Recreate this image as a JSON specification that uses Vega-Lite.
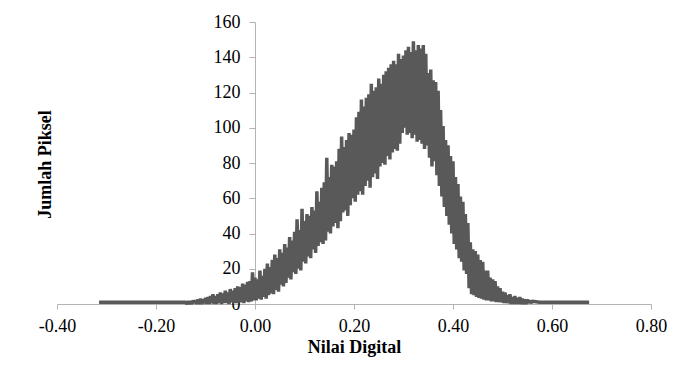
{
  "$schema": "https://vega.github.io/schema/vega-lite/v6.json",
  "width": 594,
  "height": 282,
  "autosize": "none",
  "padding": {"left": 57, "top": 22, "right": 26, "bottom": 72},
  "background": "white",
  "config": {
    "view": {"stroke": null},
    "font": "Liberation Serif"
  },
  "data": {
    "values": [
      {"x":-0.315,"y":1},{"x":-0.3,"y":1},{"x":-0.275,"y":1},{"x":-0.25,"y":1},{"x":-0.225,"y":1},{"x":-0.2,"y":1},{"x":-0.175,"y":1},{"x":-0.15,"y":1},
      {"x":-0.14,"y":1},{"x":-0.1375,"y":0},{"x":-0.135,"y":1.5},{"x":-0.1325,"y":0},
      {"x":-0.13,"y":1.5},{"x":-0.1275,"y":0},{"x":-0.125,"y":2},{"x":-0.1225,"y":0.5},
      {"x":-0.12,"y":2},{"x":-0.1175,"y":0},{"x":-0.115,"y":2.5},{"x":-0.1125,"y":0},
      {"x":-0.11,"y":3},{"x":-0.1075,"y":0},{"x":-0.105,"y":2.5},{"x":-0.1025,"y":0.5},
      {"x":-0.1,"y":3.5},{"x":-0.0975,"y":0},{"x":-0.095,"y":4},{"x":-0.0925,"y":0},
      {"x":-0.09,"y":4.5},{"x":-0.0875,"y":0.5},{"x":-0.085,"y":5.5},{"x":-0.0825,"y":0},
      {"x":-0.08,"y":4.5},{"x":-0.0775,"y":0},{"x":-0.075,"y":5.5},{"x":-0.0725,"y":0.5},
      {"x":-0.07,"y":6.5},{"x":-0.0675,"y":0},{"x":-0.065,"y":6},{"x":-0.0625,"y":0.5},
      {"x":-0.06,"y":7.5},{"x":-0.0575,"y":0.5},{"x":-0.055,"y":6.5},{"x":-0.0525,"y":0},
      {"x":-0.05,"y":8.5},{"x":-0.0475,"y":1},{"x":-0.045,"y":7.5},{"x":-0.0425,"y":0.5},
      {"x":-0.04,"y":9},{"x":-0.0375,"y":0.5},{"x":-0.035,"y":10},{"x":-0.0325,"y":1},
      {"x":-0.03,"y":9.5},{"x":-0.0275,"y":1},{"x":-0.025,"y":11.5},{"x":-0.0225,"y":0.5},
      {"x":-0.02,"y":11},{"x":-0.0175,"y":1.5},{"x":-0.015,"y":12.5},{"x":-0.0125,"y":1},
      {"x":-0.01,"y":13},{"x":-0.0075,"y":1.5},{"x":-0.005,"y":18},{"x":-0.0025,"y":2},
      {"x":0,"y":15},{"x":0.0025,"y":2},{"x":0.005,"y":14},{"x":0.0075,"y":3},
      {"x":0.01,"y":19},{"x":0.0125,"y":2.5},{"x":0.015,"y":16},{"x":0.0175,"y":4},
      {"x":0.02,"y":20},{"x":0.0225,"y":3},{"x":0.025,"y":23},{"x":0.0275,"y":5},
      {"x":0.03,"y":21},{"x":0.0325,"y":6},{"x":0.035,"y":25},{"x":0.0375,"y":5.5},
      {"x":0.04,"y":28},{"x":0.0425,"y":8},{"x":0.045,"y":26},{"x":0.0475,"y":7},
      {"x":0.05,"y":31},{"x":0.0525,"y":11},{"x":0.055,"y":29},{"x":0.0575,"y":10},
      {"x":0.06,"y":34},{"x":0.0625,"y":12},{"x":0.065,"y":32},{"x":0.0675,"y":15},
      {"x":0.07,"y":38},{"x":0.0725,"y":14},{"x":0.075,"y":36},{"x":0.0775,"y":18},
      {"x":0.08,"y":41},{"x":0.0825,"y":17},{"x":0.085,"y":48},{"x":0.0875,"y":20},
      {"x":0.09,"y":42},{"x":0.0925,"y":19},{"x":0.095,"y":54},{"x":0.0975,"y":24},
      {"x":0.1,"y":47},{"x":0.1025,"y":23},{"x":0.105,"y":51},{"x":0.1075,"y":27},
      {"x":0.11,"y":50},{"x":0.1125,"y":26},{"x":0.115,"y":55},{"x":0.1175,"y":31},
      {"x":0.12,"y":53},{"x":0.1225,"y":29},{"x":0.125,"y":64},{"x":0.1275,"y":33},
      {"x":0.13,"y":58},{"x":0.1325,"y":35},{"x":0.135,"y":66},{"x":0.1375,"y":34},
      {"x":0.14,"y":69},{"x":0.1425,"y":36},{"x":0.145,"y":83},{"x":0.1475,"y":41},
      {"x":0.15,"y":72},{"x":0.1525,"y":40},{"x":0.155,"y":79},{"x":0.1575,"y":44},
      {"x":0.16,"y":78},{"x":0.1625,"y":46},{"x":0.165,"y":81},{"x":0.1675,"y":43},
      {"x":0.17,"y":88},{"x":0.1725,"y":47},{"x":0.175,"y":95},{"x":0.1775,"y":52},
      {"x":0.18,"y":89},{"x":0.1825,"y":53},{"x":0.185,"y":93},{"x":0.1875,"y":50},
      {"x":0.19,"y":97},{"x":0.1925,"y":56},{"x":0.195,"y":96},{"x":0.1975,"y":60},
      {"x":0.2,"y":99},{"x":0.2025,"y":58},{"x":0.205,"y":106},{"x":0.2075,"y":62},
      {"x":0.21,"y":109},{"x":0.2125,"y":64},{"x":0.215,"y":116},{"x":0.2175,"y":62},
      {"x":0.22,"y":112},{"x":0.2225,"y":67},{"x":0.225,"y":117},{"x":0.2275,"y":70},
      {"x":0.23,"y":119},{"x":0.2325,"y":66},{"x":0.235,"y":125},{"x":0.2375,"y":72},
      {"x":0.24,"y":121},{"x":0.2425,"y":74},{"x":0.245,"y":123},{"x":0.2475,"y":71},
      {"x":0.25,"y":128},{"x":0.2525,"y":78},{"x":0.255,"y":125},{"x":0.2575,"y":80},
      {"x":0.26,"y":130},{"x":0.2625,"y":79},{"x":0.265,"y":132},{"x":0.2675,"y":84},
      {"x":0.27,"y":134},{"x":0.2725,"y":82},{"x":0.275,"y":136},{"x":0.2775,"y":86},
      {"x":0.28,"y":138},{"x":0.2825,"y":88},{"x":0.285,"y":136},{"x":0.2875,"y":87},
      {"x":0.29,"y":142},{"x":0.2925,"y":91},{"x":0.295,"y":139},{"x":0.2975,"y":97},
      {"x":0.3,"y":141},{"x":0.3025,"y":100},{"x":0.305,"y":144},{"x":0.3075,"y":96},
      {"x":0.31,"y":146},{"x":0.3125,"y":97},{"x":0.315,"y":143},{"x":0.3175,"y":94},
      {"x":0.32,"y":149},{"x":0.3225,"y":96},{"x":0.325,"y":144},{"x":0.3275,"y":92},
      {"x":0.33,"y":147},{"x":0.3325,"y":93},{"x":0.335,"y":145},{"x":0.3375,"y":91},
      {"x":0.34,"y":147},{"x":0.3425,"y":88},{"x":0.345,"y":142},{"x":0.3475,"y":90},
      {"x":0.35,"y":131},{"x":0.3525,"y":83},{"x":0.355,"y":133},{"x":0.3575,"y":78},
      {"x":0.36,"y":127},{"x":0.3625,"y":81},{"x":0.365,"y":126},{"x":0.3675,"y":73},
      {"x":0.37,"y":121},{"x":0.3725,"y":67},{"x":0.375,"y":110},{"x":0.3775,"y":61},
      {"x":0.38,"y":101},{"x":0.3825,"y":55},{"x":0.385,"y":93},{"x":0.3875,"y":50},
      {"x":0.39,"y":90},{"x":0.3925,"y":45},{"x":0.395,"y":84},{"x":0.3975,"y":40},
      {"x":0.4,"y":81},{"x":0.4025,"y":34},{"x":0.405,"y":72},{"x":0.4075,"y":31},
      {"x":0.41,"y":68},{"x":0.4125,"y":26},{"x":0.415,"y":61},{"x":0.4175,"y":24},
      {"x":0.42,"y":58},{"x":0.4225,"y":19},{"x":0.425,"y":51},{"x":0.4275,"y":17},
      {"x":0.43,"y":46},{"x":0.4325,"y":9},{"x":0.435,"y":35},{"x":0.4375,"y":5.5},
      {"x":0.44,"y":31},{"x":0.4425,"y":5},{"x":0.445,"y":30},{"x":0.4475,"y":4},
      {"x":0.45,"y":28},{"x":0.4525,"y":3.5},{"x":0.455,"y":25},{"x":0.4575,"y":3},
      {"x":0.46,"y":24},{"x":0.4625,"y":2.5},{"x":0.465,"y":19},{"x":0.4675,"y":2},
      {"x":0.47,"y":19},{"x":0.4725,"y":2},{"x":0.475,"y":15},{"x":0.4775,"y":1.5},
      {"x":0.48,"y":14},{"x":0.4825,"y":1.5},{"x":0.485,"y":13},{"x":0.4875,"y":1},
      {"x":0.49,"y":10},{"x":0.4925,"y":1},{"x":0.495,"y":9},{"x":0.4975,"y":1},
      {"x":0.5,"y":7},{"x":0.5025,"y":0.5},{"x":0.505,"y":6.5},{"x":0.5075,"y":0.5},
      {"x":0.51,"y":5},{"x":0.5125,"y":0.5},{"x":0.515,"y":5.5},{"x":0.5175,"y":0},
      {"x":0.52,"y":4},{"x":0.5225,"y":0},{"x":0.525,"y":4.5},{"x":0.5275,"y":0},
      {"x":0.53,"y":3.5},{"x":0.5325,"y":0},{"x":0.535,"y":4},{"x":0.5375,"y":0},
      {"x":0.54,"y":3},{"x":0.5425,"y":0},{"x":0.545,"y":2.5},{"x":0.5475,"y":0},
      {"x":0.55,"y":2.5},{"x":0.5525,"y":0.5},{"x":0.555,"y":2},{"x":0.5575,"y":0.5},
      {"x":0.56,"y":1.5},{"x":0.575,"y":1},{"x":0.6,"y":1},{"x":0.625,"y":1},{"x":0.65,"y":1},{"x":0.675,"y":1}
    ]
  },
  "mark": {"type": "line", "color": "#595959", "strokeWidth": 3.5, "strokeJoin": "bevel", "strokeCap": "butt", "clip": false},
  "encoding": {
    "x": {
      "field": "x", "type": "quantitative",
      "scale": {"domain": [-0.4, 0.8], "nice": false, "zero": false},
      "axis": {
        "title": "Nilai Digital",
        "values": [-0.4, -0.2, 0, 0.2, 0.4, 0.6, 0.8],
        "labelExpr": "(datum.value < 0 ? '-' : '') + format(abs(datum.value), '.2f')",
        "grid": false,
        "domainColor": "#b3b3b3",
        "tickColor": "#b3b3b3",
        "tickSize": 5,
        "labelFont": "Liberation Serif",
        "labelFontSize": 18,
        "labelColor": "#000000",
        "labelPadding": 8,
        "labelFlush": false,
        "titleFont": "Liberation Serif",
        "titleFontSize": 18,
        "titleFontWeight": "bold",
        "titleColor": "#000000",
        "titlePadding": 3
      }
    },
    "y": {
      "field": "y", "type": "quantitative",
      "scale": {"domain": [0, 160], "nice": false},
      "axis": {
        "title": "Jumlah Piksel",
        "values": [0, 20, 40, 60, 80, 100, 120, 140, 160],
        "format": "d",
        "grid": false,
        "offset": -198,
        "domainColor": "#b3b3b3",
        "tickColor": "#b3b3b3",
        "tickSize": 6,
        "labelFont": "Liberation Serif",
        "labelFontSize": 18,
        "labelColor": "#000000",
        "labelPadding": 9,
        "labelFlush": false,
        "titleFont": "Liberation Serif",
        "titleFontSize": 18,
        "titleFontWeight": "bold",
        "titleColor": "#000000",
        "titleAngle": -90,
        "titleAlign": "center",
        "titleBaseline": "alphabetic",
        "titleX": -205,
        "titleY": 142
      }
    }
  }
}
